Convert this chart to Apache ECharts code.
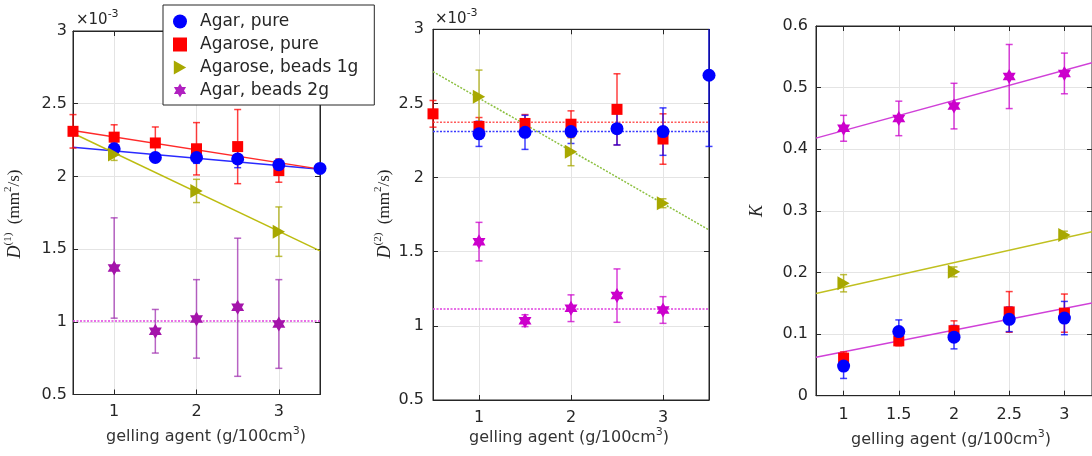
<!DOCTYPE html>
<html><head><meta charset="utf-8">
<script src="https://cdn.jsdelivr.net/npm/echarts@6/dist/echarts.min.js"></script>
<style>html,body{margin:0;padding:0;background:#fff}#c{width:1092px;height:456px}</style>
</head><body><div id="c"></div>
<script>
// ---------------- DATA ----------------
const xTicksD = [1, 2, 3];
const xTicksK = [1, 1.5, 2, 2.5, 3];
const legendNames = ['Agar, pure', 'Agarose, pure', 'Agarose, beads 1g', 'Agar, beads 2g'];

// Panel 1: D(1) (x10^-3 mm^2/s)
const p1AgarX = [1, 1.5, 2, 2.5, 3, 3.5];
const p1AgarY = [2.19, 2.13, 2.13, 2.12, 2.08, 2.055];
const p1AgarE = [0.04, 0.03, 0.04, 0.06, 0.03, 0.01];
const p1AgaroseX = [0.5, 1, 1.5, 2, 2.5, 3];
const p1AgaroseY = [2.31, 2.27, 2.23, 2.19, 2.205, 2.04];
const p1AgaroseE = [0.115, 0.085, 0.11, 0.18, 0.255, 0.08];
const p1Beads1X = [1, 2, 3];
const p1Beads1Y = [2.15, 1.90, 1.62];
const p1Beads1E = [0.04, 0.08, 0.17];
const p1Beads2X = [1, 1.5, 2, 2.5, 3];
const p1Beads2Y = [1.37, 0.935, 1.02, 1.10, 0.985];
const p1Beads2E = [0.345, 0.15, 0.27, 0.475, 0.305];
const p1FitAgar = [[0.5, 2.2], [3.5, 2.05]];
const p1FitAgarose = [[0.5, 2.315], [3.5, 2.05]];
const p1FitBeads1 = [[0.5, 2.297], [3.5, 1.488]];
const p1FitBeads2 = [[0.5, 1.005], [3.5, 1.005]];

// Panel 2: D(2)
const p2AgarX = [1, 1.5, 2, 2.5, 3, 3.5];
const p2AgarY = [2.295, 2.305, 2.31, 2.33, 2.31, 2.69];
const p2AgarE = [0.085, 0.115, 0.08, 0.11, 0.16, 0.48];
const p2AgaroseX = [0.5, 1, 1.5, 2, 2.5, 3];
const p2AgaroseY = [2.43, 2.345, 2.365, 2.36, 2.46, 2.26];
const p2AgaroseE = [0.09, 0.06, 0.06, 0.09, 0.24, 0.17];
const p2Beads1X = [1, 2, 3];
const p2Beads1Y = [2.545, 2.175, 1.827];
const p2Beads1E = [0.18, 0.095, 0.03];
const p2Beads2X = [1, 1.5, 2, 2.5, 3];
const p2Beads2Y = [1.568, 1.035, 1.119, 1.204, 1.107];
const p2Beads2E = [0.13, 0.04, 0.09, 0.18, 0.09];
const p2FitAgar = [[0.5, 2.31], [3.5, 2.31]];
const p2FitAgarose = [[0.5, 2.373], [3.5, 2.373]];
const p2FitBeads1 = [[0.5, 2.714], [3.5, 1.647]];
const p2FitBeads2 = [[0.5, 1.114], [3.5, 1.114]];

// Panel 3: K
const p3AgarX = [1, 1.5, 2, 2.5, 3];
const p3AgarY = [0.048, 0.104, 0.095, 0.124, 0.126];
const p3AgarE = [0.02, 0.019, 0.019, 0.02, 0.027];
const p3AgaroseX = [1, 1.5, 2, 2.5, 3];
const p3AgaroseY = [0.061, 0.089, 0.1055, 0.136, 0.134];
const p3AgaroseE = [0.01, 0.008, 0.016, 0.033, 0.031];
const p3Beads1X = [1, 2, 3];
const p3Beads1Y = [0.1825, 0.201, 0.261];
const p3Beads1E = [0.014, 0.008, 0.006];
const p3Beads2X = [1, 1.5, 2, 2.5, 3];
const p3Beads2Y = [0.434, 0.450, 0.470, 0.518, 0.523];
const p3Beads2E = [0.021, 0.028, 0.037, 0.052, 0.033];
const p3FitPure = [[0.75, 0.0623], [3.25, 0.1506]];
const p3FitBeads1 = [[0.75, 0.166], [3.25, 0.266]];
const p3FitBeads2 = [[0.75, 0.418], [3.25, 0.5405]];

// ---------------- STYLE ----------------
const FONT = 'DejaVu Sans';
const INK = '#262626';
const BLUE = '#0000ff', RED = '#ff0000', OLIVE = '#a8a800', PURPLE = '#a414aa', MAG = '#cc00cc';
const STAR = 'path://M0,-10L8.66,5L-8.66,5Z M0,10L-8.66,-5L8.66,-5Z';
const TRI = 'path://M0,0L15,8.5L0,17Z';
const SQ = 'path://M0,0L10,0L10,10L0,10Z';

const grids = [
  {left: 73, top: 31, width: 247, height: 363.5},
  {left: 433, top: 29.3, width: 276, height: 370.7},
  {left: 816, top: 26, width: 277.5, height: 369.7}
];
grids.forEach(g => { g.show = true; g.borderColor = INK; g.borderWidth = 1; g.backgroundColor = '#fff'; g.containLabel = false; });

function xAxisPair(gi, min, max, interval, ticks, margin) {
  const base = {gridIndex: gi, type: 'value', min, max, interval};
  return [
    Object.assign({}, base, {position: 'bottom',
      axisLine: {show: true, onZero: false, lineStyle: {color: INK, width: 1}},
      axisTick: {show: true, inside: true, length: 5, customValues: ticks, lineStyle: {color: INK}},
      axisLabel: {show: true, customValues: ticks, margin, color: INK, fontSize: 16, fontFamily: FONT},
      splitLine: {show: true, lineStyle: {color: '#e4e4e4', width: 1}}}),
    Object.assign({}, base, {position: 'top',
      axisLine: {show: true, onZero: false, lineStyle: {color: INK, width: 1}},
      axisTick: {show: true, inside: true, length: 5, customValues: ticks, lineStyle: {color: INK}},
      axisLabel: {show: false}, splitLine: {show: false}})
  ];
}
function yAxisPair(gi, min, max, interval, margin) {
  const base = {gridIndex: gi, type: 'value', min, max, interval};
  return [
    Object.assign({}, base, {position: 'left',
      axisLine: {show: true, onZero: false, lineStyle: {color: INK, width: 1}},
      axisTick: {show: true, inside: true, length: 5, lineStyle: {color: INK}},
      axisLabel: {show: true, margin, color: INK, fontSize: 16, fontFamily: FONT},
      splitLine: {show: true, lineStyle: {color: '#e4e4e4', width: 1}}}),
    Object.assign({}, base, {position: 'right',
      axisLine: {show: true, onZero: false, lineStyle: {color: INK, width: 1}},
      axisTick: {show: true, inside: true, length: 5, lineStyle: {color: INK}},
      axisLabel: {show: false}, splitLine: {show: false}})
  ];
}

const xa = [], ya = [];
const xp = [xAxisPair(0, 0.5, 3.5, 0.5, xTicksD, 9), xAxisPair(1, 0.5, 3.5, 0.5, xTicksD, 10), xAxisPair(2, 0.75, 3.25, 0.25, xTicksK, 11)];
const yp = [yAxisPair(0, 0.5, 3, 0.5, 6), yAxisPair(1, 0.5, 3, 0.5, 9), yAxisPair(2, 0, 0.6, 0.1, 8)];
xp.forEach(p => xa.push(p[0])); xp.forEach(p => xa.push(p[1]));
yp.forEach(p => ya.push(p[0])); yp.forEach(p => ya.push(p[1]));

function markers(gi, name, xs, ys, symbol, size, color) {
  return {type: 'scatter', name, xAxisIndex: gi, yAxisIndex: gi, symbol, symbolSize: size,
    symbolKeepAspect: true, itemStyle: {color, opacity: 1}, z: 5, silent: true,
    data: xs.map((x, i) => [x, ys[i]])};
}
function makeErr(color) {
  return function (params, api) {
    const x = api.value(0), lo = api.value(1), hi = api.value(2);
    const cs = params.coordSys;
    const pt = api.coord([x, hi]), pb = api.coord([x, lo]);
    const top = cs.y, bot = cs.y + cs.height;
    const st = {stroke: color, lineWidth: 1.5, opacity: 0.75};
    const yt = Math.max(pt[1], top), yb = Math.min(pb[1], bot);
    const ch = [{type: 'line', shape: {x1: pt[0], y1: yt, x2: pt[0], y2: yb}, style: st}];
    const w = 3.5;
    if (pt[1] >= top) ch.push({type: 'line', shape: {x1: pt[0] - w, y1: pt[1], x2: pt[0] + w, y2: pt[1]}, style: st});
    if (pb[1] <= bot) ch.push({type: 'line', shape: {x1: pb[0] - w, y1: pb[1], x2: pb[0] + w, y2: pb[1]}, style: st});
    return {type: 'group', children: ch};
  };
}
function errbars(gi, xs, ys, es, color) {
  return {type: 'custom', xAxisIndex: gi, yAxisIndex: gi, z: 4, silent: true,
    renderItem: makeErr(color), encode: {x: 0, y: [1, 2]},
    data: xs.map((x, i) => [x, ys[i] - es[i], ys[i] + es[i]])};
}
function fit(gi, pts, color, type) {
  return {type: 'line', xAxisIndex: gi, yAxisIndex: gi, data: pts, symbol: 'none', silent: true,
    z: 3, clip: true, lineStyle: {color, width: 1.5, type: type || 'solid'}};
}

const series = [
  // panel 1
  fit(0, p1FitAgar, '#2a2aff'), fit(0, p1FitAgarose, '#ff2a2a'), fit(0, p1FitBeads1, '#bcbc10'),
  fit(0, p1FitBeads2, '#e040e0', [2, 1.5]),
  errbars(0, p1AgaroseX, p1AgaroseY, p1AgaroseE, RED),
  errbars(0, p1AgarX, p1AgarY, p1AgarE, BLUE),
  errbars(0, p1Beads1X, p1Beads1Y, p1Beads1E, OLIVE),
  errbars(0, p1Beads2X, p1Beads2Y, p1Beads2E, '#a030b0'),
  markers(0, legendNames[1], p1AgaroseX, p1AgaroseY, 'rect', 11, RED),
  markers(0, legendNames[0], p1AgarX, p1AgarY, 'circle', 13, BLUE),
  markers(0, legendNames[2], p1Beads1X, p1Beads1Y, TRI, 14, OLIVE),
  markers(0, legendNames[3], p1Beads2X, p1Beads2Y, STAR, 15, PURPLE),
  // panel 2
  fit(1, p2FitAgarose, '#ff5a5a', [2, 1.5]), fit(1, p2FitAgar, '#3a3aff', [2, 1.5]),
  fit(1, p2FitBeads1, '#8cc040', [2, 1.5]), fit(1, p2FitBeads2, '#e040e0', [2, 1.5]),
  errbars(1, p2AgaroseX, p2AgaroseY, p2AgaroseE, RED),
  errbars(1, p2AgarX, p2AgarY, p2AgarE, BLUE),
  errbars(1, p2Beads1X, p2Beads1Y, p2Beads1E, OLIVE),
  errbars(1, p2Beads2X, p2Beads2Y, p2Beads2E, MAG),
  markers(1, legendNames[1], p2AgaroseX, p2AgaroseY, 'rect', 11, RED),
  markers(1, legendNames[0], p2AgarX, p2AgarY, 'circle', 13, BLUE),
  markers(1, legendNames[2], p2Beads1X, p2Beads1Y, TRI, 14, OLIVE),
  markers(1, legendNames[3], p2Beads2X, p2Beads2Y, STAR, 15, MAG),
  // panel 3
  fit(2, p3FitPure, '#d040d8'), fit(2, p3FitBeads1, '#c0c020'), fit(2, p3FitBeads2, '#d040d8'),
  errbars(2, p3AgaroseX, p3AgaroseY, p3AgaroseE, RED),
  errbars(2, p3AgarX, p3AgarY, p3AgarE, BLUE),
  errbars(2, p3Beads1X, p3Beads1Y, p3Beads1E, OLIVE),
  errbars(2, p3Beads2X, p3Beads2Y, p3Beads2E, MAG),
  markers(2, legendNames[1], p3AgaroseX, p3AgaroseY, 'rect', 11, RED),
  markers(2, legendNames[0], p3AgarX, p3AgarY, 'circle', 13, BLUE),
  markers(2, legendNames[2], p3Beads1X, p3Beads1Y, TRI, 14, OLIVE),
  markers(2, legendNames[3], p3Beads2X, p3Beads2Y, STAR, 15, MAG)
];

const supRich = {
  n: {fontSize: 15, fontFamily: FONT, fill: INK, lineHeight: 22},
  s: {fontSize: 11, fontFamily: FONT, fill: INK, lineHeight: 11, verticalAlign: 'top'}
};
const mathRich = {
  i: {fontSize: 18, fontFamily: 'Liberation Serif', fontStyle: 'italic', fill: INK, lineHeight: 24},
  n: {fontSize: 17, fontFamily: 'Liberation Serif', fill: INK, lineHeight: 24},
  s: {fontSize: 11, fontFamily: 'Liberation Serif', fill: INK, lineHeight: 12, verticalAlign: 'top'}
};
const xlRich = {
  n: {fontSize: 16, fontFamily: FONT, fill: '#333', lineHeight: 22},
  s: {fontSize: 11, fontFamily: FONT, fill: '#333', lineHeight: 11, verticalAlign: 'top'}
};
function txt(x, y, text, rich, rot, align) {
  return {type: 'text', x, y, rotation: rot || 0, z: 10, silent: true,
    style: {text, rich, align: align || 'center', verticalAlign: 'middle', fill: INK}};
}
const XLAB = '{n|gelling agent (g/100cm}{s|3}{n|)}';
const graphic = [
  txt(76, 20, '{n|×10}{s|-3}', supRich, 0, 'left'),
  txt(435, 19, '{n|×10}{s|-3}', supRich, 0, 'left'),
  txt(15, 214, '{i|D}{s|(1)}{n|  (mm}{s|2}{n|/s)}', mathRich, Math.PI / 2),
  txt(385, 214, '{i|D}{s|(2)}{n|  (mm}{s|2}{n|/s)}', mathRich, Math.PI / 2),
  txt(757, 211, '{i|K}', mathRich, Math.PI / 2),
  txt(206, 437, XLAB, xlRich),
  txt(569, 438, XLAB, xlRich),
  txt(951, 440, XLAB, xlRich)
];

const legendData = [
  {name: legendNames[0], icon: 'circle', itemStyle: {color: BLUE}},
  {name: legendNames[1], icon: SQ, itemStyle: {color: RED}},
  {name: legendNames[2], icon: TRI, itemStyle: {color: OLIVE}},
  {name: legendNames[3], icon: STAR, itemStyle: {color: '#b020c0'}}
];

const chart = echarts.init(document.getElementById('c'), null, {renderer: 'canvas'});
chart.setOption({
  animation: false,
  backgroundColor: '#fff',
  textStyle: {fontFamily: FONT},
  grid: grids,
  xAxis: xa,
  yAxis: ya,
  legend: {orient: 'vertical', left: 163, top: 5, padding: [8, 16, 6, 10], itemGap: 6,
    itemWidth: 30, itemHeight: 14, backgroundColor: '#fff', borderColor: INK, borderWidth: 1,
    selectedMode: false, textStyle: {fontSize: 17, fontFamily: FONT, color: INK}, data: legendData, z: 20},
  graphic,
  series
});
</script></body></html>
